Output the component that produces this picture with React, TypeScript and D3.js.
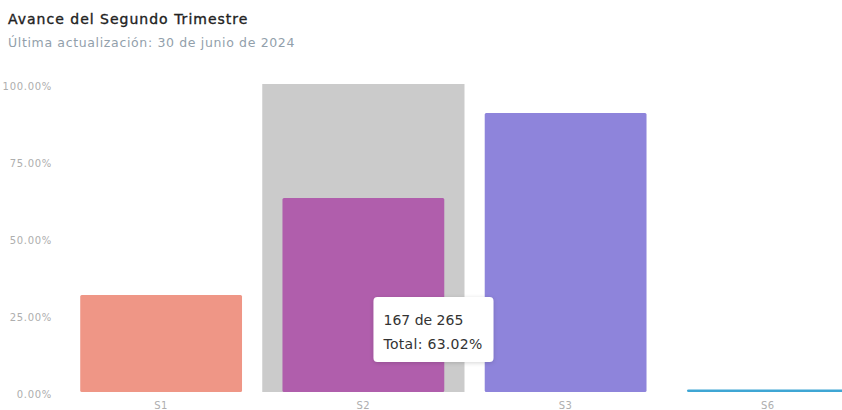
import React from "react";
import * as d3 from "d3";

const categories = ["S1", "S2", "S3", "S6"];
const values = [31.5, 63.02, 90.6, 0.8];
const colors = ["#ef9686", "#b05eac", "#8e84db", "#3fa6d4"];
const yTicks = [0, 25, 50, 75, 100];
const highlighted = "S2";
const tooltipDone = 167;
const tooltipTotal = 265;
const tooltipPct = 63.02;

const W = 842;
const H = 410;
const FONT = "'DejaVu Sans', sans-serif";

export default function App() {
  const x = d3.scaleBand<string>().domain(categories).range([60, 869]).paddingInner(0).paddingOuter(0);
  const y = d3.scaleLinear().domain([0, 100]).range([392, 84]);
  const inner = 0.1;
  const bw = x.bandwidth() * (1 - 2 * inner);
  const hx = x(highlighted)!;
  const hv = values[categories.indexOf(highlighted)];
  const tipX = hx + x.bandwidth() * 0.55;
  const tipY = y(hv) + 99;
  return (
    <div style={{ position: "fixed", left: 0, top: 0, width: W, height: H, overflow: "hidden", background: "#fff" }}>
      <svg width={W} height={H} style={{ display: "block" }}>
        <defs>
          <filter id="sh" x="-20%" y="-20%" width="140%" height="150%">
            <feDropShadow dx="0" dy="1" stdDeviation="2" floodColor="#000" floodOpacity="0.16" />
          </filter>
        </defs>
        <text x={8} y={24} fontFamily={FONT} fontSize={14} letterSpacing={1} fill="#222" stroke="#222" strokeWidth={0.35}>
          Avance del Segundo Trimestre
        </text>
        <text x={8} y={47} fontFamily={FONT} fontSize={12.5} letterSpacing={0.65} fill="#92a0ab">
          Última actualización: 30 de junio de 2024
        </text>
        {yTicks.map((t) => (
          <text key={t} x={52} y={y(t) + 2.5} dy="0.35em" textAnchor="end" fontFamily={FONT} fontSize={10} letterSpacing={0.7} fill="#aeaeae">
            {t.toFixed(2) + "%"}
          </text>
        ))}
        <rect x={hx} y={y(100)} width={x.bandwidth()} height={y(0) - y(100)} fill="#cbcbcb" />
        {categories.map((c, i) => {
          const bx = x(c)! + x.bandwidth() * inner;
          const top = y(values[i]);
          return <rect key={c} x={bx} y={top} width={bw} height={y(0) - top} rx={1.5} fill={colors[i]} />;
        })}
        {categories.map((c) => (
          <text key={c} x={x(c)! + x.bandwidth() / 2} y={409} textAnchor="middle" fontFamily={FONT} fontSize={10} letterSpacing={0.5} fill="#aeaeae">
            {c}
          </text>
        ))}
        <g transform={`translate(${tipX},${tipY})`}>
          <rect x={0} y={0} width={120} height={65} rx={4} fill="#fff" filter="url(#sh)" />
          <text x={10} y={28} fontFamily={FONT} fontSize={14} fill="#333">{`${tooltipDone} de ${tooltipTotal}`}</text>
          <text x={10} y={52} fontFamily={FONT} fontSize={14} letterSpacing={0.3} fill="#333">{`Total: ${tooltipPct.toFixed(2)}%`}</text>
        </g>
      </svg>
    </div>
  );
}
